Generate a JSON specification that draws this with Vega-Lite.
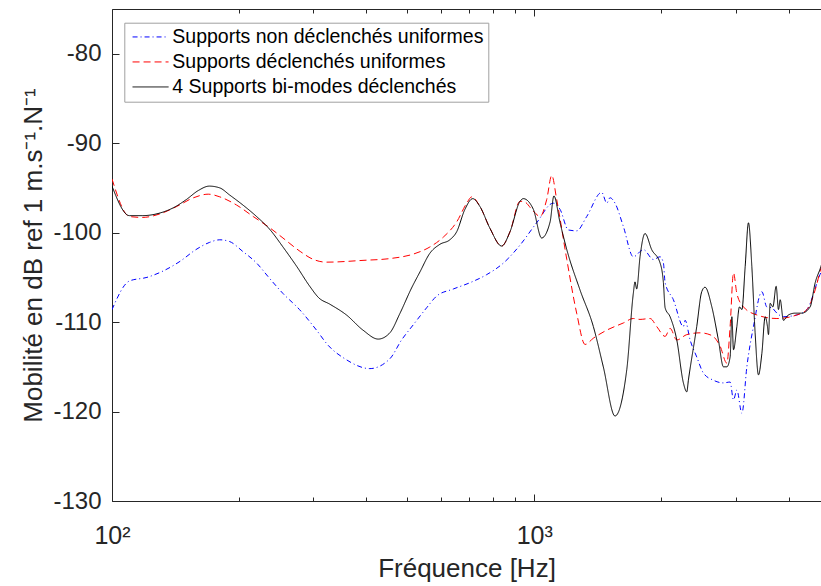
{
"$schema": "https://vega.github.io/schema/vega-lite/v6.json",
"width": 709, "height": 492,
"autosize": {"type": "none"},
"padding": {"left": 112, "top": 9, "right": 0, "bottom": 85},
"background": "white",
"config": {"view": {"stroke": null}, "font": "Liberation Sans"},
"data": {"values": [
{"s":"A","f":100,"v":-108.6},{"s":"A","f":110,"v":-105.4},{"s":"A","f":121,"v":-105.0},{"s":"A","f":132,"v":-104.3},{"s":"A","f":145,"v":-103.2},{"s":"A","f":158,"v":-101.9},{"s":"A","f":170,"v":-101.1},{"s":"A","f":180,"v":-100.8},{"s":"A","f":190,"v":-101.0},{"s":"A","f":204,"v":-102.1},{"s":"A","f":220,"v":-103.4},{"s":"A","f":236,"v":-105.1},{"s":"A","f":254,"v":-106.8},{"s":"A","f":278,"v":-108.6},{"s":"A","f":305,"v":-110.9},{"s":"A","f":325,"v":-112.6},{"s":"A","f":356,"v":-114.1},{"s":"A","f":408,"v":-115.2},{"s":"A","f":455,"v":-114.1},{"s":"A","f":485,"v":-112.0},{"s":"A","f":517,"v":-110.3},{"s":"A","f":556,"v":-108.4},{"s":"A","f":587,"v":-107.1},{"s":"A","f":643,"v":-106.3},{"s":"A","f":704,"v":-105.6},{"s":"A","f":771,"v":-104.7},{"s":"A","f":845,"v":-103.4},{"s":"A","f":925,"v":-101.4},{"s":"A","f":1013,"v":-98.9},{"s":"A","f":1109,"v":-96.7},{"s":"A","f":1151,"v":-97.4},{"s":"A","f":1204,"v":-99.7},{"s":"A","f":1260,"v":-99.8},{"s":"A","f":1331,"v":-98.2},{"s":"A","f":1444,"v":-95.5},{"s":"A","f":1485,"v":-96.7},{"s":"A","f":1511,"v":-96.1},{"s":"A","f":1553,"v":-96.7},{"s":"A","f":1625,"v":-99.3},{"s":"A","f":1716,"v":-102.7},{"s":"A","f":1813,"v":-101.9},{"s":"A","f":1914,"v":-103.0},{"s":"A","f":1986,"v":-102.7},{"s":"A","f":2022,"v":-103.4},{"s":"A","f":2041,"v":-105.6},{"s":"A","f":2135,"v":-107.5},{"s":"A","f":2255,"v":-110.5},{"s":"A","f":2276,"v":-109.8},{"s":"A","f":2339,"v":-112.0},{"s":"A","f":2425,"v":-113.9},{"s":"A","f":2515,"v":-115.7},{"s":"A","f":2656,"v":-116.5},{"s":"A","f":2805,"v":-116.8},{"s":"A","f":2909,"v":-116.7},{"s":"A","f":2963,"v":-118.7},{"s":"A","f":3018,"v":-117.6},{"s":"A","f":3102,"v":-120.2},{"s":"A","f":3187,"v":-115.0},{"s":"A","f":3304,"v":-110.5},{"s":"A","f":3459,"v":-106.6},{"s":"A","f":3553,"v":-108.3},{"s":"A","f":3652,"v":-108.4},{"s":"A","f":3754,"v":-109.0},{"s":"A","f":3890,"v":-109.4},{"s":"A","f":4186,"v":-109.2},{"s":"A","f":4421,"v":-108.6},{"s":"A","f":4747,"v":-104.7},{"s":"A","f":4800,"v":-104.2},
{"s":"B","f":100,"v":-94.0},{"s":"B","f":110,"v":-98.2},{"s":"B","f":118,"v":-98.3},{"s":"B","f":130,"v":-97.9},{"s":"B","f":142,"v":-97.1},{"s":"B","f":156,"v":-96.1},{"s":"B","f":169,"v":-95.7},{"s":"B","f":180,"v":-96.0},{"s":"B","f":197,"v":-96.9},{"s":"B","f":216,"v":-98.2},{"s":"B","f":237,"v":-99.5},{"s":"B","f":254,"v":-100.6},{"s":"B","f":279,"v":-102.1},{"s":"B","f":300,"v":-103.0},{"s":"B","f":322,"v":-103.3},{"s":"B","f":393,"v":-103.1},{"s":"B","f":455,"v":-102.9},{"s":"B","f":517,"v":-102.4},{"s":"B","f":566,"v":-101.6},{"s":"B","f":609,"v":-100.5},{"s":"B","f":655,"v":-98.8},{"s":"B","f":692,"v":-96.7},{"s":"B","f":711,"v":-96.0},{"s":"B","f":744,"v":-97.1},{"s":"B","f":785,"v":-99.5},{"s":"B","f":837,"v":-101.5},{"s":"B","f":876,"v":-99.9},{"s":"B","f":925,"v":-96.5},{"s":"B","f":942,"v":-96.5},{"s":"B","f":995,"v":-97.6},{"s":"B","f":1032,"v":-98.2},{"s":"B","f":1070,"v":-96.3},{"s":"B","f":1100,"v":-93.6},{"s":"B","f":1130,"v":-96.3},{"s":"B","f":1194,"v":-103.0},{"s":"B","f":1260,"v":-109.0},{"s":"B","f":1319,"v":-112.5},{"s":"B","f":1380,"v":-111.8},{"s":"B","f":1485,"v":-110.9},{"s":"B","f":1625,"v":-110.1},{"s":"B","f":1716,"v":-109.6},{"s":"B","f":1780,"v":-109.7},{"s":"B","f":1881,"v":-109.6},{"s":"B","f":1950,"v":-110.5},{"s":"B","f":2041,"v":-111.6},{"s":"B","f":2097,"v":-110.7},{"s":"B","f":2175,"v":-112.0},{"s":"B","f":2297,"v":-111.4},{"s":"B","f":2470,"v":-111.2},{"s":"B","f":2633,"v":-111.5},{"s":"B","f":2755,"v":-112.7},{"s":"B","f":2858,"v":-114.6},{"s":"B","f":2909,"v":-110.5},{"s":"B","f":2963,"v":-104.5},{"s":"B","f":3018,"v":-106.8},{"s":"B","f":3129,"v":-108.3},{"s":"B","f":3365,"v":-109.2},{"s":"B","f":3754,"v":-109.6},{"s":"B","f":4186,"v":-109.2},{"s":"B","f":4421,"v":-108.6},{"s":"B","f":4626,"v":-106.4},{"s":"B","f":4772,"v":-104.0},{"s":"B","f":4800,"v":-103.6},
{"s":"C","f":100,"v":-94.8},{"s":"C","f":110,"v":-98.1},{"s":"C","f":118,"v":-98.1},{"s":"C","f":130,"v":-97.8},{"s":"C","f":140,"v":-97.2},{"s":"C","f":150,"v":-96.3},{"s":"C","f":160,"v":-95.3},{"s":"C","f":170,"v":-94.8},{"s":"C","f":180,"v":-95.0},{"s":"C","f":190,"v":-95.8},{"s":"C","f":204,"v":-96.9},{"s":"C","f":220,"v":-98.2},{"s":"C","f":237,"v":-99.7},{"s":"C","f":254,"v":-101.6},{"s":"C","f":274,"v":-103.8},{"s":"C","f":294,"v":-106.0},{"s":"C","f":309,"v":-107.3},{"s":"C","f":328,"v":-108.0},{"s":"C","f":359,"v":-109.2},{"s":"C","f":393,"v":-110.9},{"s":"C","f":427,"v":-111.9},{"s":"C","f":455,"v":-111.2},{"s":"C","f":481,"v":-109.0},{"s":"C","f":512,"v":-106.2},{"s":"C","f":536,"v":-104.4},{"s":"C","f":566,"v":-102.3},{"s":"C","f":598,"v":-101.3},{"s":"C","f":631,"v":-100.8},{"s":"C","f":655,"v":-99.9},{"s":"C","f":685,"v":-97.4},{"s":"C","f":715,"v":-96.2},{"s":"C","f":744,"v":-97.1},{"s":"C","f":785,"v":-99.5},{"s":"C","f":837,"v":-101.5},{"s":"C","f":876,"v":-99.9},{"s":"C","f":925,"v":-96.5},{"s":"C","f":942,"v":-96.2},{"s":"C","f":995,"v":-97.4},{"s":"C","f":1041,"v":-100.6},{"s":"C","f":1090,"v":-98.8},{"s":"C","f":1113,"v":-95.9},{"s":"C","f":1151,"v":-98.9},{"s":"C","f":1194,"v":-101.9},{"s":"C","f":1283,"v":-106.4},{"s":"C","f":1380,"v":-110.5},{"s":"C","f":1457,"v":-115.0},{"s":"C","f":1553,"v":-120.5},{"s":"C","f":1656,"v":-115.3},{"s":"C","f":1716,"v":-106.8},{"s":"C","f":1732,"v":-105.5},{"s":"C","f":1748,"v":-106.3},{"s":"C","f":1780,"v":-102.7},{"s":"C","f":1829,"v":-100.1},{"s":"C","f":1897,"v":-101.9},{"s":"C","f":1986,"v":-103.4},{"s":"C","f":2022,"v":-105.6},{"s":"C","f":2041,"v":-108.4},{"s":"C","f":2097,"v":-109.4},{"s":"C","f":2175,"v":-112.0},{"s":"C","f":2255,"v":-116.8},{"s":"C","f":2297,"v":-117.8},{"s":"C","f":2317,"v":-116.5},{"s":"C","f":2425,"v":-110.5},{"s":"C","f":2492,"v":-106.6},{"s":"C","f":2537,"v":-106.1},{"s":"C","f":2633,"v":-108.3},{"s":"C","f":2729,"v":-112.0},{"s":"C","f":2805,"v":-115.0},{"s":"C","f":2858,"v":-115.0},{"s":"C","f":2909,"v":-113.9},{"s":"C","f":2937,"v":-109.4},{"s":"C","f":2963,"v":-113.1},{"s":"C","f":3018,"v":-110.5},{"s":"C","f":3061,"v":-108.3},{"s":"C","f":3102,"v":-108.6},{"s":"C","f":3158,"v":-103.8},{"s":"C","f":3215,"v":-98.9},{"s":"C","f":3275,"v":-103.8},{"s":"C","f":3334,"v":-111.2},{"s":"C","f":3395,"v":-115.9},{"s":"C","f":3459,"v":-113.5},{"s":"C","f":3522,"v":-109.4},{"s":"C","f":3566,"v":-110.5},{"s":"C","f":3586,"v":-111.4},{"s":"C","f":3619,"v":-107.9},{"s":"C","f":3673,"v":-108.3},{"s":"C","f":3739,"v":-106.0},{"s":"C","f":3787,"v":-108.6},{"s":"C","f":3822,"v":-107.5},{"s":"C","f":3890,"v":-109.8},{"s":"C","f":3998,"v":-109.2},{"s":"C","f":4147,"v":-109.0},{"s":"C","f":4301,"v":-109.0},{"s":"C","f":4500,"v":-108.3},{"s":"C","f":4626,"v":-105.6},{"s":"C","f":4772,"v":-103.8},{"s":"C","f":4800,"v":-103.4}
]},
"layer": [
{
"mark": {"type": "line", "clip": true, "interpolate": "monotone"},
"encoding": {
"x": {"field": "f", "type": "quantitative",
 "scale": {"type": "log", "domain": [100, 4775], "nice": false},
 "axis": {"orient": "bottom", "values": [100,200,300,400,500,600,700,800,900,1000,2000,3000,4000],
  "labelExpr": "datum.value == 100 ? '10²' : (datum.value == 1000 ? '10³' : '')",
  "tickSize": {"condition": {"test": "datum.value == 100 || datum.value == 1000", "value": -7}, "value": -4},
  "grid": false, "labelFlush": false, "labelOverlap": false,
  "domainColor": "#262626", "tickColor": "#262626", "labelColor": "#262626", "titleColor": "#262626",
  "labelFont": "Liberation Sans", "titleFont": "Liberation Sans",
  "labelFontSize": 25, "titleFontSize": 26, "titleFontWeight": "normal",
  "labelPadding": 29, "titlePadding": 4, "title": "Fréquence [Hz]"}},
"y": {"field": "v", "type": "quantitative",
 "scale": {"domain": [-130, -75], "nice": false, "zero": false},
 "axis": {"orient": "left", "values": [-130,-120,-110,-100,-90,-80], "tickSize": -7, "grid": false,
  "labelExpr": "'' + datum.value",
  "domainColor": "#262626", "tickColor": "#262626", "labelColor": "#262626", "titleColor": "#262626",
  "labelFont": "Liberation Sans", "titleFont": "Liberation Sans",
  "labelFontSize": 24, "titleFontSize": 26, "titleFontWeight": "normal",
  "labelPadding": 18, "titlePadding": 6, "title": "Mobilité en dB ref 1 m.s⁻¹.N⁻¹"}},
"color": {"field": "s", "type": "nominal",
 "scale": {"domain": ["A","B","C"], "range": ["#0000ff","#ff0000","#000000"]},
 "legend": {"orient": "none", "legendX": 12.3, "legendY": 13.7, "title": null,
  "labelExpr": "datum.label == 'A' ? 'Supports non déclenchés uniformes' : (datum.label == 'B' ? 'Supports déclenchés uniformes' : '4 Supports bi-modes déclenchés')",
  "symbolType": "M-0.667,0H3.333", "symbolSize": 324, "symbolStrokeWidth": 1,
  "labelFont": "Liberation Sans", "labelFontSize": 19.5, "labelColor": "#000000", "labelLimit": 500,
  "labelOffset": 24, "padding": 4.5, "rowPadding": 4,
  "strokeColor": "#a0a0a0", "fillColor": "#ffffff"}},
"strokeDash": {"field": "s", "type": "nominal",
 "scale": {"domain": ["A","B","C"], "range": [[5,3,1,3],[7,4],[1,0]]},
 "legend": {"orient": "none", "legendX": 12.3, "legendY": 13.7, "title": null,
  "labelExpr": "datum.label == 'A' ? 'Supports non déclenchés uniformes' : (datum.label == 'B' ? 'Supports déclenchés uniformes' : '4 Supports bi-modes déclenchés')",
  "symbolType": "M-0.667,0H3.333", "symbolSize": 324, "symbolStrokeWidth": 1,
  "labelFont": "Liberation Sans", "labelFontSize": 19.5, "labelColor": "#000000", "labelLimit": 500,
  "labelOffset": 24, "padding": 4.5, "rowPadding": 4,
  "strokeColor": "#a0a0a0", "fillColor": "#ffffff"}},
"strokeWidth": {"field": "s", "type": "nominal",
 "scale": {"domain": ["A","B","C"], "range": [1, 1, 1.6]}, "legend": null}
}
},
{
"mark": {"type": "line", "opacity": 0},
"encoding": {
"x": {"field": "f", "type": "quantitative",
 "axis": {"orient": "top", "values": [100,200,300,400,500,600,700,800,900,1000,2000,3000,4000],
  "labels": false, "title": null, "grid": false,
  "tickSize": {"condition": {"test": "datum.value == 100 || datum.value == 1000", "value": -7}, "value": -4},
  "domainColor": "#262626", "tickColor": "#262626"}},
"y": {"field": "v", "type": "quantitative", "axis": null}
}
}
],
"resolve": {"axis": {"x": "independent", "y": "independent"}}
}
